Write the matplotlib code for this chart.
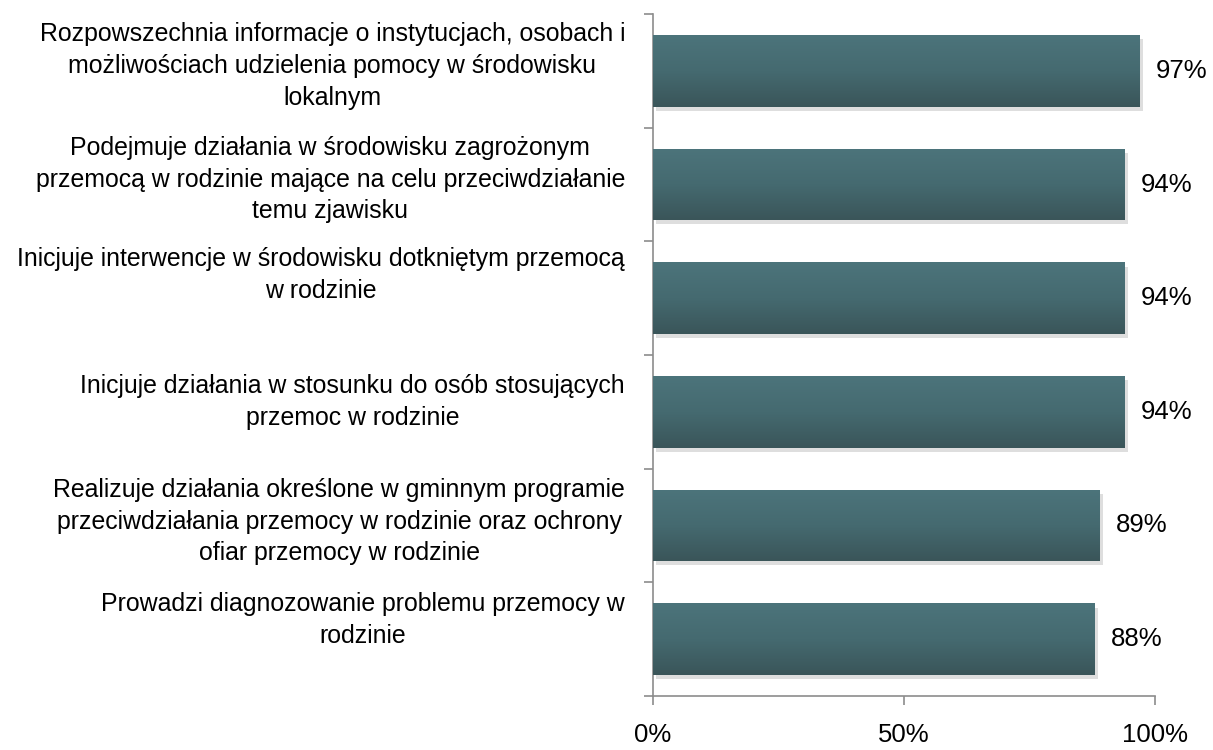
import numpy as np
import matplotlib
matplotlib.use("Agg")
import matplotlib.pyplot as plt
from matplotlib import font_manager
import matplotlib.patheffects as pe
from matplotlib.colors import LinearSegmentedColormap

categories = [
    "Rozpowszechnia informacje o instytucjach, osobach i\nmożliwościach udzielenia pomocy w środowisku\nlokalnym",
    "Podejmuje działania w środowisku zagrożonym\nprzemocą w rodzinie mające na celu przeciwdziałanie\ntemu zjawisku",
    "Inicjuje interwencje w środowisku dotkniętym przemocą\nw rodzinie",
    "Inicjuje działania w stosunku do osób stosujących\nprzemoc w rodzinie",
    "Realizuje działania określone w gminnym programie\nprzeciwdziałania przemocy w rodzinie oraz ochrony\nofiar przemocy w rodzinie",
    "Prowadzi diagnozowanie problemu przemocy w\nrodzinie",
]
values = [97, 94, 94, 94, 89, 88]
xticks = [0, 50, 100]
xtick_labels = ["0%", "50%", "100%"]

# label vertical offsets in pixels (layout only)
label_dy = [5, 5, 23, 10, 4, 19]

names = {f.name for f in font_manager.fontManager.ttflist}
if "Liberation Sans Narrow" in names:
    fam = ["Liberation Sans Narrow", "DejaVu Sans"]
    lab_fs, val_fs = 19.5, 22
else:
    fam = ["Liberation Sans", "DejaVu Sans"]
    lab_fs, val_fs = 17.9, 18.5
plt.rcParams["font.family"] = fam

fig = plt.figure(figsize=(12.13, 7.5), dpi=100)
ax = fig.add_axes([653 / 1213, 1 - 696 / 750, (1155 - 653) / 1213, (696 - 14) / 750])

n = len(values)
y = np.arange(n)
h = 0.63
bars = ax.barh(y, values, height=h, color="#44666c", zorder=2)
for b in bars:
    b.set_path_effects([pe.withSimplePatchShadow(offset=(2, -3), shadow_rgbFace="#000000", alpha=0.13)])

cmap = LinearSegmentedColormap.from_list("g", ["#4c747b", "#456a70", "#3a5559"])
grad = np.linspace(0, 1, 256).reshape(-1, 1)
for i, (b, v) in enumerate(zip(bars, values)):
    im = ax.imshow(grad, cmap=cmap, aspect="auto", origin="lower",
                   extent=(0, v, i - h / 2, i + h / 2), zorder=3)
    im.set_clip_path(b)

ax.set_xlim(0, 100)
ax.set_ylim(n - 0.5, -0.5)

for i, v in enumerate(values):
    ax.annotate(f"{v}%", xy=(v, i), xytext=(16, 0), textcoords="offset pixels",
                ha="left", va="center", fontsize=val_fs, color="#000000")

for i, lab in enumerate(categories):
    ax.annotate(lab, xy=(0, i), xycoords=("axes fraction", "data"),
                xytext=(-28, label_dy[i]), textcoords="offset pixels",
                ha="right", va="center", multialignment="center",
                fontsize=lab_fs, color="#000000", linespacing=1.42)

ax.set_yticks([])
ax.set_yticks(np.arange(n + 1) - 0.5, minor=True)
ax.tick_params(axis="y", which="minor", direction="out", length=6.5, width=1.2, color="#8c8c8c")
ax.set_xticks(xticks)
ax.set_xticklabels(xtick_labels, fontsize=val_fs)
ax.tick_params(axis="x", direction="out", length=6.5, width=1.2, color="#8c8c8c", pad=13)

for s in ["top", "right"]:
    ax.spines[s].set_visible(False)
for s in ["left", "bottom"]:
    ax.spines[s].set_color("#8c8c8c")
    ax.spines[s].set_linewidth(1.2)

fig.savefig("out.png", dpi=100)
